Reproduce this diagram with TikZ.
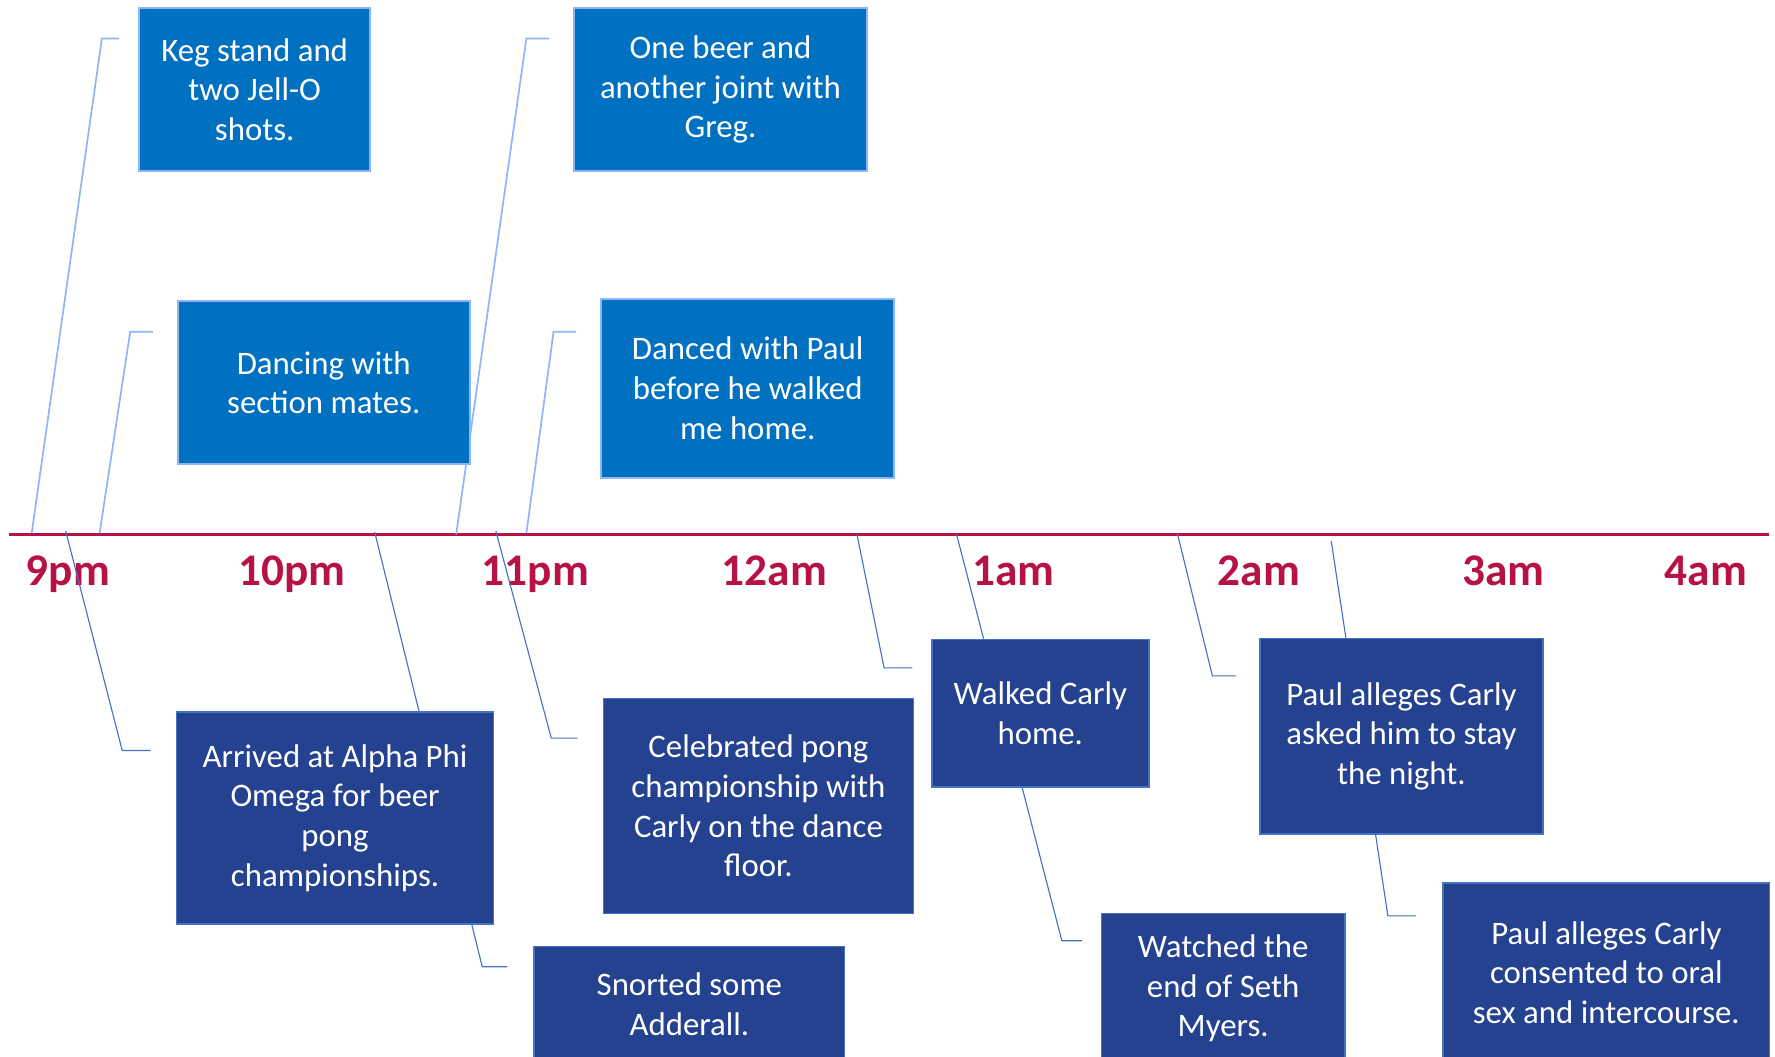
\documentclass[tikz,border=0pt]{standalone}
\usepackage{fontspec}
\setmainfont{Carlito}
\usepackage{xcolor}
\usetikzlibrary{calc}

\definecolor{hourred}{RGB}{182,18,68}
\definecolor{topfill}{RGB}{0,112,192}
\definecolor{topline}{RGB}{143,180,250}
\definecolor{lowfill}{RGB}{36,66,143}
\definecolor{lowline}{RGB}{68,114,196}

\begin{document}
\begin{tikzpicture}[x=0.5pt, y=-0.5pt,
    topbox/.style={draw=topline, line width=0.75pt, fill=topfill, text=white, rectangle, align=center,
        font=\fontsize{14.5}{17.5}\selectfont, inner sep=0pt},
    lowbox/.style={draw=lowline, line width=0.75pt, fill=lowfill, text=white, rectangle, align=center,
        font=\fontsize{14.5}{17.5}\selectfont, inner sep=0pt},
    hour/.style={text=hourred, font=\fontsize{20}{22}\selectfont\bfseries, anchor=base},
    uplink/.style={draw=topline, line width=0.75pt},
    downlink/.style={draw=lowline, line width=0.5pt}]
    \useasboundingbox (0,0) rectangle (1568,933);
    \clip (0,0) rectangle (1568,933);

    % Timeline
    \coordinate (start) at (8,472);
    \coordinate (stop) at (1563,472);
    \draw[hourred, line width=1.25pt] (start) -- (stop);

    % Hours
    \node[hour] (h9) at (60,517) {9pm};
    \node[hour] (h10) at (258,517) {10pm};
    \node[hour] (h11) at (473,517) {11pm};
    \node[hour] (h12) at (684,517) {12am};
    \node[hour] (h1) at (895,517) {1am};
    \node[hour] (h2) at (1112,517) {2am};
    \node[hour] (h3) at (1328,517) {3am};
    \node[hour] (h4) at (1507,517) {4am};

    % Connector ends
    \coordinate (kegfoot) at (28,471);      \coordinate (kegtip) at (105,34);
    \coordinate (dancefoot) at (88,471);    \coordinate (dancetip) at (135,293);
    \coordinate (beerfoot) at (403,472);    \coordinate (beertip) at (485,34);
    \coordinate (paulfoot) at (465,471);    \coordinate (paultip) at (509,293);
    \coordinate (arrivefoot) at (58,469);   \coordinate (arrivetip) at (133,663);
    \coordinate (snortfoot) at (331,470);   \coordinate (snorttip) at (448,854);
    \coordinate (pongfoot) at (438,469);    \coordinate (pongtip) at (510,652);
    \coordinate (walkfoot) at (757,472);    \coordinate (walktip) at (806,590);
    \coordinate (sethfoot) at (845,472);    \coordinate (sethtip) at (956,831);
    \coordinate (stayfoot) at (1040,471);   \coordinate (staytip) at (1092,597);
    \coordinate (sexfoot) at (1176,478);    \coordinate (sextip) at (1251,809);

    % Connectors
    \draw[uplink] (kegfoot) -- ($(kegtip)+(-15,0)$) -- (kegtip);
    \draw[uplink] (dancefoot) -- ($(dancetip)+(-20,0)$) -- (dancetip);
    \draw[uplink] (beerfoot) -- ($(beertip)+(-20,0)$) -- (beertip);
    \draw[uplink] (paulfoot) -- ($(paultip)+(-20,0)$) -- (paultip);
    \draw[downlink] (arrivefoot) -- ($(arrivetip)+(-25,0)$) -- (arrivetip);
    \draw[downlink] (snortfoot) -- ($(snorttip)+(-22,0)$) -- (snorttip);
    \draw[downlink] (pongfoot) -- ($(pongtip)+(-23,0)$) -- (pongtip);
    \draw[downlink] (walkfoot) -- ($(walktip)+(-25,0)$) -- (walktip);
    \draw[downlink] (sethfoot) -- ($(sethtip)+(-18,0)$) -- (sethtip);
    \draw[downlink] (stayfoot) -- ($(staytip)+(-21,0)$) -- (staytip);
    \draw[downlink] (sexfoot) -- ($(sextip)+(-25,0)$) -- (sextip);

    % Above the line
    \node[topbox, minimum width=102pt, minimum height=72pt] (keg) at (225,79) {Keg stand and\\two Jell-O\\shots.};
    \node[topbox, minimum width=129pt, minimum height=72pt] (dance) at (286,338) {Dancing with\\section mates.};
    \node[topbox, minimum width=129.5pt, minimum height=72pt] (beer) at (636.5,79) {One beer and\\another joint with\\Greg.};
    \node[topbox, minimum width=129.5pt, minimum height=79pt] (paul) at (660.5,343) {Danced with Paul\\before he walked\\me home.};

    % Below the line
    \node[lowbox, minimum width=140pt, minimum height=93.5pt] (arrive) at (296,722.5) {Arrived at Alpha Phi\\Omega for beer\\pong\\championships.};
    \node[lowbox, minimum width=137pt, minimum height=51pt] (snort) at (609,887) {Snorted some\\Adderall.};
    \node[lowbox, minimum width=137pt, minimum height=95pt] (pong) at (670,712) {Celebrated pong\\championship with\\Carly on the dance\\floor.};
    \node[lowbox, minimum width=96pt, minimum height=65pt] (walk) at (919,630) {Walked Carly\\home.};
    \node[lowbox, minimum width=107.5pt, minimum height=66pt] (seth) at (1080.5,873) {Watched the\\end of Seth\\Myers.};
    \node[lowbox, minimum width=125pt, minimum height=86.5pt] (stay) at (1238,650.5) {Paul alleges Carly\\asked him to stay\\the night.};
    \node[lowbox, minimum width=144pt, minimum height=79pt] (sex) at (1419,859) {Paul alleges Carly\\consented to oral\\sex and intercourse.};
\end{tikzpicture}
\end{document}
